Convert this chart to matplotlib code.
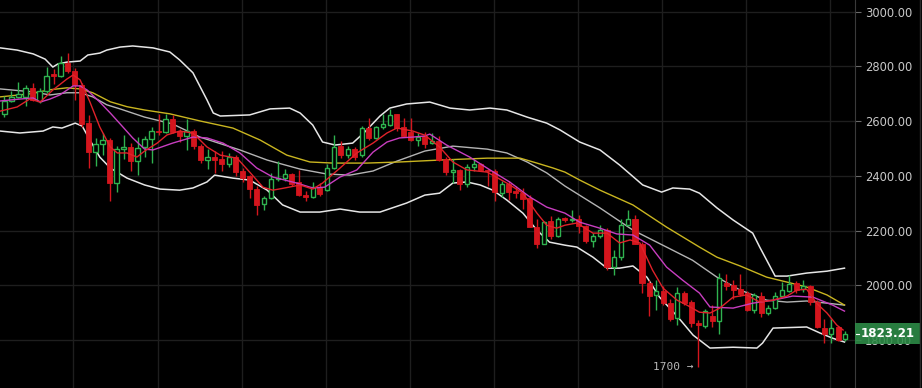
import matplotlib
matplotlib.use("Agg")
import matplotlib.pyplot as plt
import matplotlib.transforms as mtransforms
from matplotlib.patches import Rectangle
from matplotlib.lines import Line2D
import numpy as np

# OHLC, one candle per row (index 0 .. 120)
opens = [2628, 2673, 2690, 2689, 2722, 2673, 2712, 2772, 2765, 2813,
         2785, 2734, 2592, 2487, 2515, 2533, 2375, 2499, 2506, 2454,
         2506, 2536, 2566, 2560, 2609, 2564, 2545, 2564, 2511, 2457,
         2470, 2462, 2444, 2470, 2417, 2399, 2353, 2299, 2320, 2387,
         2393, 2408, 2379, 2332, 2322, 2361, 2350, 2430, 2509, 2475,
         2499, 2475, 2576, 2539, 2580, 2585, 2625, 2578, 2561, 2533,
         2545, 2521, 2527, 2463, 2415, 2421, 2369, 2433, 2442, 2423,
         2417, 2336, 2372, 2344, 2338, 2320, 2214, 2153, 2235, 2182,
         2245, 2239, 2243, 2218, 2161, 2179, 2204, 2066, 2105, 2221,
         2243, 2153, 2010, 1965, 1981, 1937, 1880, 1971, 1941, 1863,
         1851, 1888, 1871, 2010, 2001, 1985, 1973, 1910, 1961, 1900,
         1916, 1961, 1981, 2008, 1985, 1997, 1941, 1846, 1822, 1849,
         1805]
highs = [2691, 2710, 2743, 2734, 2740, 2720, 2799, 2792, 2840, 2850,
         2795, 2740, 2621, 2539, 2558, 2540, 2509, 2549, 2521, 2543,
         2545, 2580, 2625, 2625, 2622, 2570, 2609, 2570, 2515, 2497,
         2490, 2490, 2484, 2478, 2430, 2405, 2365, 2326, 2411, 2454,
         2427, 2411, 2420, 2344, 2379, 2375, 2444, 2549, 2527, 2509,
         2505, 2582, 2610, 2582, 2625, 2643, 2627, 2610, 2612, 2558,
         2560, 2558, 2545, 2470, 2463, 2425, 2442, 2463, 2446, 2426,
         2425, 2381, 2380, 2365, 2356, 2330, 2243, 2236, 2255, 2251,
         2250, 2277, 2259, 2222, 2190, 2222, 2208, 2129, 2243, 2277,
         2259, 2160, 2021, 2021, 1997, 1950, 1993, 1980, 1946, 1873,
         1915, 1928, 2044, 2041, 2019, 2040, 1980, 1973, 1977, 1930,
         1975, 2013, 2038, 2015, 2020, 2001, 1945, 1876, 1876, 1852,
         1835]
lows = [2616, 2670, 2685, 2655, 2673, 2665, 2704, 2737, 2762, 2777,
        2676, 2580, 2430, 2438, 2478, 2308, 2341, 2463, 2417, 2405,
        2470, 2448, 2551, 2556, 2556, 2523, 2494, 2500, 2448, 2426,
        2409, 2417, 2433, 2401, 2377, 2320, 2259, 2277, 2314, 2381,
        2381, 2362, 2326, 2310, 2320, 2326, 2344, 2427, 2466, 2466,
        2460, 2470, 2533, 2535, 2570, 2582, 2566, 2542, 2527, 2509,
        2503, 2515, 2454, 2405, 2375, 2350, 2361, 2417, 2417, 2365,
        2308, 2324, 2311, 2320, 2280, 2212, 2138, 2150, 2170, 2178,
        2232, 2232, 2190, 2155, 2142, 2175, 2056, 2038, 2093, 2218,
        2150, 1974, 1888, 1910, 1928, 1869, 1855, 1928, 1848, 1700,
        1843, 1849, 1822, 1983, 1952, 1961, 1905, 1900, 1885, 1892,
        1912, 1956, 1976, 1973, 1976, 1930, 1843, 1790, 1790, 1795,
        1798]
closes = [2673, 2689, 2698, 2722, 2677, 2710, 2767, 2765, 2813, 2783,
          2734, 2588, 2487, 2515, 2533, 2375, 2499, 2506, 2454, 2503,
          2536, 2564, 2560, 2609, 2560, 2545, 2564, 2509, 2457, 2470,
          2460, 2444, 2470, 2414, 2393, 2353, 2295, 2320, 2390, 2393,
          2408, 2369, 2330, 2322, 2361, 2334, 2430, 2505, 2475, 2499,
          2468, 2576, 2539, 2580, 2588, 2622, 2576, 2545, 2533, 2542,
          2517, 2527, 2457, 2414, 2421, 2369, 2433, 2442, 2421, 2417,
          2341, 2372, 2341, 2336, 2314, 2214, 2150, 2231, 2182, 2243,
          2240, 2244, 2218, 2161, 2179, 2204, 2066, 2105, 2221, 2243,
          2153, 2010, 1963, 1978, 1937, 1876, 1971, 1937, 1861, 1855,
          1905, 1871, 2026, 1998, 1983, 1968, 1910, 1965, 1900, 1916,
          1961, 1983, 2005, 1983, 1997, 1940, 1847, 1822, 1846, 1802,
          1823.21]

# Bollinger bands (candle index, price)
upper_idx = [-0.6, 1.8, 4.1, 5.8, 6.9, 7.6, 8.9, 10.8, 11.9, 13.6, 14.6, 16.5, 18.3, 21.2,
             23.6, 25.0, 26.9, 28.9, 29.8, 30.8, 35.0, 37.9, 40.7, 42.2, 44.0, 45.4, 47.2,
             49.7, 51.4, 53.6, 55.0, 57.4, 60.7, 63.6, 66.4, 69.3, 71.7, 74.6, 77.4, 79.3,
             82.1, 85.0, 87.8, 91.1, 93.8, 95.4, 97.8, 99.2, 101.7, 104.0, 106.8, 107.8,
             108.8, 110.0, 111.7, 114.5, 117.4, 119.9]
upper_val = [2868, 2860, 2846, 2827, 2798, 2809, 2816, 2820, 2842, 2849, 2860, 2871, 2875, 2868,
             2853, 2824, 2777, 2678, 2630, 2619, 2623, 2645, 2648, 2630, 2586, 2524, 2513,
             2520, 2560, 2619, 2648, 2663, 2670, 2648, 2641, 2648, 2641, 2615, 2593, 2568,
             2524, 2495, 2440, 2367, 2341, 2356, 2352, 2337, 2283, 2239, 2191, 2140,
             2092, 2034, 2034, 2045, 2052, 2063]
middle_idx = [-0.6, 4.1, 6.5, 8.9, 10.8, 12.6, 14.6, 16.5, 20.0, 24.0, 27.9, 33.6, 37.5,
              42.2, 46.0, 49.3, 52.6, 56.0, 60.0, 64.0, 68.9, 71.7, 74.6, 77.4, 80.0,
              85.0, 89.7, 94.5, 98.2, 101.7, 105.0, 108.8, 111.7, 114.5, 117.4, 119.9]
middle_val = [2718, 2707, 2696, 2704, 2704, 2689, 2660, 2645, 2615, 2590, 2542, 2495, 2458,
              2425, 2407, 2403, 2418, 2454, 2491, 2509, 2498, 2484, 2451, 2411, 2363,
              2283, 2202, 2140, 2092, 2030, 1983, 1946, 1939, 1943, 1935, 1928]
lower_idx = [-0.6, 2.2, 5.5, 6.9, 8.2, 10.1, 11.1, 12.2, 13.6, 15.1, 17.5, 20.0, 22.2, 25.0,
             26.9, 28.9, 30.0, 32.6, 35.0, 37.5, 39.7, 42.2, 45.0, 47.9, 50.7, 53.6, 57.4,
             60.0, 62.1, 64.0, 66.0, 67.9, 69.7, 71.7, 74.0, 76.0, 77.8, 80.0, 81.7, 84.0,
             86.0, 87.8, 89.7, 91.7, 93.5, 96.0, 98.3, 100.7, 104.0, 107.4, 108.2, 109.7,
             114.5, 116.4, 118.2, 119.9]
lower_val = [2564, 2557, 2564, 2579, 2575, 2593, 2582, 2531, 2469, 2429, 2392, 2367, 2352, 2348,
             2356, 2378, 2403, 2392, 2385, 2348, 2294, 2268, 2268, 2279, 2268, 2268, 2301,
             2330, 2337, 2374, 2378, 2367, 2348, 2312, 2264, 2202, 2158, 2147, 2140, 2103,
             2063, 2063, 2071, 2030, 1957, 1888, 1818, 1771, 1774, 1771, 1789, 1844,
             1848, 1826, 1807, 1793]

# moving averages (yellow = long, magenta = medium, red = short)
yellow_idx = [-0.6, 3.6, 6.5, 8.9, 10.8, 12.6, 15.1, 17.5, 20.0, 23.6, 27.9, 32.6, 36.5,
              40.3, 43.6, 46.9, 51.7, 56.4, 62.1, 68.9, 73.6, 76.0, 78.3, 80.0, 82.1, 85.0,
              89.7, 94.5, 99.2, 101.7, 105.0, 108.8, 111.7, 114.5, 117.4, 119.9]
yellow_val = [2689, 2700, 2715, 2722, 2718, 2704, 2671, 2653, 2641, 2627, 2601, 2575, 2531,
              2476, 2451, 2447, 2447, 2451, 2458, 2465, 2465, 2447, 2429, 2414, 2385, 2348,
              2294, 2213, 2140, 2103, 2071, 2030, 2012, 1994, 1965, 1928]
magenta_idx = [-0.6, 2.2, 4.1, 5.1, 6.5, 7.9, 9.8, 10.8, 11.8, 13.6, 15.1, 16.9, 18.3, 20.0,
               21.2, 24.0, 26.9, 28.9, 31.2, 33.6, 36.0, 38.3, 40.0, 41.7, 44.0, 45.7, 47.9,
               50.3, 52.6, 54.6, 56.4, 58.3, 60.0, 60.7, 63.1, 66.4, 69.3, 72.1, 75.0, 77.4,
               80.0, 82.1, 85.0, 87.4, 89.7, 92.1, 94.5, 96.8, 99.2, 100.7, 104.0, 106.8,
               109.7, 112.5, 115.4, 118.2, 119.9]
magenta_val = [2674, 2681, 2685, 2670, 2681, 2696, 2729, 2729, 2714, 2670, 2630, 2579, 2539, 2498,
               2495, 2520, 2542, 2539, 2520, 2484, 2429, 2396, 2385, 2374, 2356, 2359, 2396,
               2422, 2487, 2524, 2539, 2542, 2546, 2553, 2513, 2469, 2422, 2378, 2323, 2286,
               2264, 2231, 2209, 2188, 2184, 2147, 2067, 2019, 1972, 1921, 1917, 1935,
               1946, 1961, 1957, 1928, 1906]
red_idx = [-0.6, 1.8, 3.6, 5.1, 6.9, 8.9, 9.8, 10.8, 12.2, 13.6, 15.1, 16.1, 17.5, 18.9, 20.0,
           21.8, 23.2, 25.0, 26.9, 28.9, 30.8, 33.2, 35.0, 36.9, 38.3, 40.0, 42.2, 44.0, 45.4,
           47.9, 50.3, 52.6, 54.6, 56.0, 58.3, 60.0, 62.1, 64.0, 66.0, 68.9, 71.7, 74.0, 76.0,
           77.4, 78.8, 80.0, 81.7, 84.0, 86.0, 87.8, 89.3, 90.7, 92.5, 94.0, 96.0, 97.4, 99.2,
           100.7, 102.1, 104.0, 105.9, 107.8, 109.7, 111.7, 113.1, 114.5, 115.9, 117.4,
           118.8, 119.7]
red_val = [2637, 2652, 2681, 2670, 2714, 2754, 2769, 2751, 2670, 2579, 2506, 2484, 2484, 2469, 2491,
           2520, 2550, 2564, 2557, 2506, 2476, 2465, 2414, 2359, 2348, 2356, 2367, 2352, 2374,
           2429, 2484, 2520, 2557, 2575, 2564, 2549, 2506, 2451, 2422, 2414, 2374, 2337, 2264,
           2220, 2209, 2220, 2228, 2191, 2191, 2155, 2166, 2155, 2056, 1990, 1946, 1928, 1902,
           1899, 1917, 1957, 1965, 1939, 1946, 1961, 1983, 1986, 1935, 1899,
           1855, 1837]

price_ticks = [1800, 2000, 2200, 2400, 2600, 2800, 3000]
low_note = "1700 \u2192"

UP = '#2fb24f'
DOWN = '#d4151d'
BG = '#000000'
GRID = '#1e1e1e'

fig = plt.figure(figsize=(9.22, 3.88), dpi=100, facecolor=BG)
ax = fig.add_axes([0, 0, 855 / 922, 1])
ax.set_facecolor(BG)

x = np.arange(len(closes))
o = np.array(opens, dtype=float)
h = np.array(highs, dtype=float)
l = np.array(lows, dtype=float)
c = np.array(closes, dtype=float)
up = c >= o

# grid
for gx in np.arange(9.85, 121, 12):
    ax.axvline(gx, color=GRID, lw=1, zorder=0)
for gy in price_ticks:
    ax.axhline(gy, color=GRID, lw=1, zorder=0)

# indicator lines
ax.plot(upper_idx, upper_val, color='#e6e6e6', lw=1.1, zorder=1)
ax.plot(middle_idx, middle_val, color='#b4b4b4', lw=1.0, zorder=1)
ax.plot(lower_idx, lower_val, color='#e6e6e6', lw=1.1, zorder=1)
ax.plot(yellow_idx, yellow_val, color='#c9b520', lw=1.0, zorder=1)

# candles
ax.vlines(x[up], l[up], h[up], color=UP, lw=1, zorder=2)
ax.vlines(x[~up], l[~up], h[~up], color=DOWN, lw=1, zorder=2)
body = np.abs(c - o)
ax.bar(x[up], body[up], bottom=np.minimum(o, c)[up], width=0.62,
       facecolor=BG, edgecolor=UP, lw=1, zorder=3)
ax.bar(x[~up], np.maximum(body[~up], 4), bottom=np.minimum(o, c)[~up], width=0.72,
       facecolor=DOWN, edgecolor=DOWN, lw=0.6, zorder=3)

ax.plot(magenta_idx, magenta_val, color='#c83ec0', lw=1.0, zorder=4)
ax.plot(red_idx, red_val, color='#e0222a', lw=1.0, zorder=4)

ax.set_xlim(-0.64, 121.4)
ax.set_ylim(1625, 3043)
ax.set_xticks([])
ax.yaxis.tick_right()
ax.set_yticks(price_ticks, labels=['%.2f' % t for t in price_ticks])
ax.tick_params(axis='y', direction='out', length=4, width=0.8, color='#6a6a6a',
               labelcolor='#c8c8c8', labelsize=8.3, pad=3)
for s in ['top', 'bottom', 'left']:
    ax.spines[s].set_visible(False)
ax.spines['right'].set_color('#3a3a3a')

# low note
imin = int(np.argmin(l))
ax.text(imin - 0.6, l[imin], low_note, color='#b8b8b8', fontsize=8,
        family='DejaVu Sans Mono', ha='right', va='center')

# last price label
tr = mtransforms.blended_transform_factory(fig.transFigure, ax.transData)
ax.add_artist(Rectangle((855 / 922, c[-1] - 38), 65 / 922, 76, transform=tr,
                        facecolor='#2e8e48', edgecolor='none', alpha=0.88,
                        zorder=10, clip_on=False))
ax.text(888 / 922, c[-1] + 2, '%.2f' % c[-1], transform=tr, color='white',
        fontsize=8.6, fontweight='bold', ha='center', va='center', zorder=11, clip_on=False)
ax.plot([856 / 922, 859 / 922], [c[-1], c[-1]], transform=tr, color='white',
        lw=0.8, zorder=11, clip_on=False)

fig.add_artist(Line2D([920 / 922, 920 / 922], [0, 1], color='#2a2a2a', lw=1))

fig.savefig('out.png', dpi=100, facecolor=BG)
